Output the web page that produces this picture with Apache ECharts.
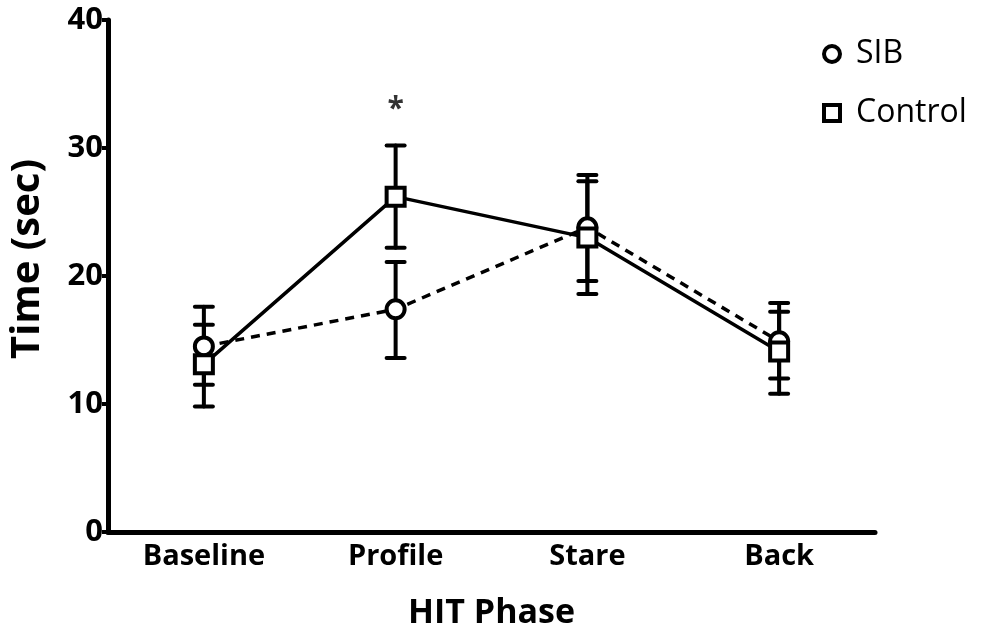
<!DOCTYPE html>
<html>
<head>
<meta charset="utf-8">
<script src="https://cdn.jsdelivr.net/npm/echarts@6/dist/echarts.min.js"></script>
<style>
  html, body { margin: 0; padding: 0; background: #fff; }
  #chart { width: 983px; height: 635px; }
</style>
</head>
<body>
<div id="chart"></div>
<script>
const phases = ['Baseline', 'Profile', 'Stare', 'Back']
const sibMean = [14.5, 17.4, 23.8, 14.9]
const sibLow = [11.5, 13.6, 19.6, 12.0]
const sibHigh = [17.6, 21.1, 27.9, 17.9]
const ctrlMean = [13.1, 26.2, 23.0, 14.1]
const ctrlLow = [9.8, 22.2, 18.6, 10.8]
const ctrlHigh = [16.2, 30.2, 27.4, 17.2]
const sigMarks = ['', '*', '', '']
const sigLevel = [33.0, 33.0, 33.0, 33.0]

const font = '"Open Sans"'
const chart = echarts.init(document.getElementById('chart'))

function errRows(low, high) {
  return phases.map((p, i) => [i, low[i], high[i]])
}

// error bar: vertical stem with a cap at both ends
function renderErr(params, api) {
  const x = api.value(0)
  const lo = api.coord([x, api.value(1)])
  const hi = api.coord([x, api.value(2)])
  const half = 9
  const style = { stroke: '#000', lineWidth: 4, fill: null, lineCap: 'round' }
  return {
    type: 'group',
    children: [
      { type: 'line', shape: { x1: lo[0], y1: lo[1], x2: hi[0], y2: hi[1] }, style },
      { type: 'line', shape: { x1: lo[0] - half, y1: lo[1], x2: lo[0] + half, y2: lo[1] }, style },
      { type: 'line', shape: { x1: hi[0] - half, y1: hi[1], x2: hi[0] + half, y2: hi[1] }, style }
    ]
  }
}

let options = {
  animation: false,
  grid: { left: 104, right: 108, top: 20, bottom: 102 },
  legend: {
    orient: 'vertical',
    left: 822,
    top: 38,
    padding: 0,
    itemGap: 27,
    itemWidth: 16,
    itemHeight: 16,
    textStyle: { fontFamily: font, fontSize: 32, color: '#000', padding: [0, 0, 0, 11] },
    itemStyle: { color: '#fff', borderColor: '#000', borderWidth: 4 },
    data: [
      { name: 'SIB', icon: 'circle' },
      { name: 'Control', icon: 'rect' }
    ]
  },
  xAxis: {
    type: 'category',
    data: phases,
    axisLine: { lineStyle: { color: '#000', width: 5 } },
    axisTick: { alignWithLabel: true, length: 6, lineStyle: { color: '#000', width: 4 } },
    axisLabel: { fontFamily: font, fontSize: 29, fontWeight: 'bold', color: '#000', margin: 10 },
    name: 'HIT Phase',
    nameLocation: 'middle',
    nameGap: 64,
    nameTextStyle: { fontFamily: font, fontSize: 34, fontWeight: 'bold', color: '#000' }
  },
  yAxis: {
    type: 'value',
    min: 0,
    max: 40,
    interval: 10,
    splitLine: { show: false },
    axisLine: { show: true, lineStyle: { color: '#000', width: 5 } },
    axisTick: { show: true, length: 6, lineStyle: { color: '#000', width: 4 } },
    axisLabel: { fontFamily: font, fontSize: 31, fontWeight: 'bold', color: '#000', margin: 5 },
    name: 'Time (sec)',
    nameLocation: 'middle',
    nameGap: 60,
    nameTextStyle: { fontFamily: font, fontSize: 40, fontWeight: 'bold', color: '#000', padding: [0, 0, 0, 34] }
  },
  series: [
    {
      name: 'SIB err',
      type: 'custom',
      renderItem: renderErr,
      data: errRows(sibLow, sibHigh),
      z: 1
    },
    {
      name: 'Control err',
      type: 'custom',
      renderItem: renderErr,
      data: errRows(ctrlLow, ctrlHigh),
      z: 1
    },
    {
      name: 'SIB',
      type: 'line',
      data: sibMean,
      symbol: 'circle',
      symbolSize: 18,
      lineStyle: { color: '#000', width: 3.5, type: [9, 7] },
      itemStyle: { color: '#fff', borderColor: '#000', borderWidth: 4 },
      z: 3
    },
    {
      name: 'Control',
      type: 'line',
      data: ctrlMean,
      symbol: 'rect',
      symbolSize: 18,
      lineStyle: { color: '#000', width: 3.5 },
      itemStyle: { color: '#fff', borderColor: '#000', borderWidth: 4 },
      z: 3
    },
    {
      name: 'sig',
      type: 'scatter',
      symbol: 'circle',
      symbolSize: 0,
      data: sigLevel.map((v, i) => (sigMarks[i] ? v : null)),
      label: {
        show: true,
        position: 'inside',
        formatter: (p) => sigMarks[p.dataIndex],
        fontFamily: font,
        fontSize: 30,
        fontWeight: 'bold',
        color: '#000'
      },
      z: 4
    }
  ]
}
chart.setOption(options)
</script>
</body>
</html>
